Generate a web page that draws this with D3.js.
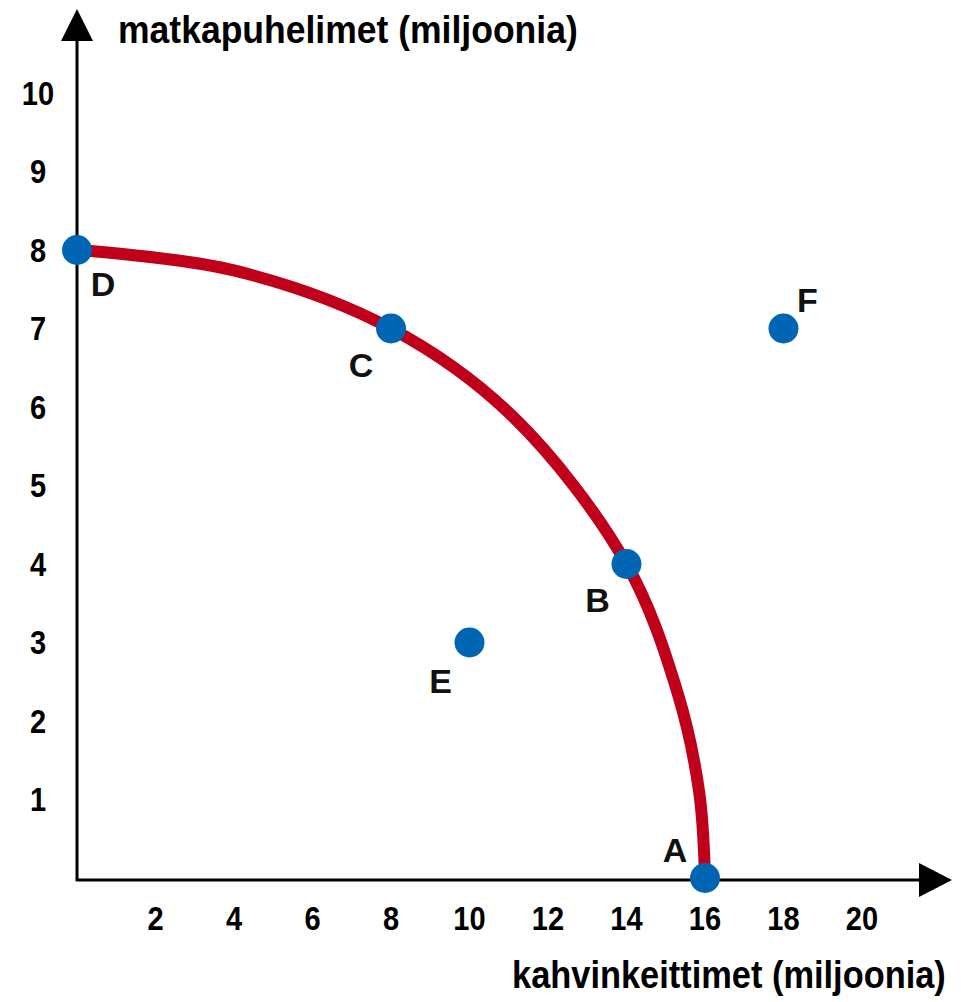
<!DOCTYPE html>
<html><head><meta charset="utf-8">
<script src="https://cdn.jsdelivr.net/npm/d3@7"></script>
<style>
html,body{margin:0;padding:0;background:#fff;}
text{font-family:"Liberation Sans Narrow","Arial Narrow","Liberation Sans",sans-serif;}
</style></head>
<body>
<svg id="c" width="961" height="1002"></svg>
<script>
// Data
const xTicks = [2,4,6,8,10,12,14,16,18,20];
const yTicks = [1,2,3,4,5,6,7,8,9,10];
const pointNames = ["A","B","C","D","E","F"];
const pointX = [16,14,8,0,10,18];
const pointY = [0,4,7,8,3,7];
const curveX = [0,4,8,11.1,14,15.3,15.85,16];
const curveY = [8,7.74,7,5.88,4,2.36,1.1,0];
const xTitle = "kahvinkeittimet (miljoonia)";
const yTitle = "matkapuhelimet (miljoonia)";

const svg = d3.select("#c");
const x = d3.scaleLinear().domain([0,16]).range([77,705]);
const y = d3.scaleLinear().domain([0,8]).range([878,250]);

// axes lines
svg.append("line").attr("x1",77).attr("x2",77).attr("y1",38).attr("y2",881)
  .attr("stroke","#000").attr("stroke-width",3);
svg.append("line").attr("x1",76).attr("x2",922).attr("y1",880).attr("y2",880)
  .attr("stroke","#000").attr("stroke-width",3);
svg.append("path").attr("d","M77,9 L93,41 L61,41 Z").attr("fill","#000");
svg.append("path").attr("d","M952,880 L919,863 L919,897 Z").attr("fill","#000");

// tick labels
svg.append("g").selectAll("text").data(xTicks).join("text")
  .attr("x",d=>x(d)).attr("y",930).attr("text-anchor","middle")
  .attr("font-size",33).attr("font-weight","bold")
  .attr("transform",d=>`translate(${x(d)},0) scale(0.88,1) translate(${-x(d)},0)`).text(d=>d);
svg.append("g").selectAll("text").data(yTicks).join("text")
  .attr("x",38).attr("y",d=>y(d)+12).attr("text-anchor","middle")
  .attr("font-size",33).attr("font-weight","bold")
  .attr("transform","translate(38,0) scale(0.88,1) translate(-38,0)").text(d=>d);

// titles, squeezed horizontally to the reference widths
function title(txt, x0, y0, w){
  const t = svg.append("text").attr("x",0).attr("y",0).attr("font-size",38)
    .attr("font-weight","bold").text(txt);
  const nat = t.node().getComputedTextLength();
  t.attr("transform",`translate(${x0},${y0}) scale(${w/nat},1)`);
}
title(yTitle,118,43,460);
title(xTitle,512,988,434);

// curve
const line = d3.line().x(d=>x(d[0])).y(d=>y(d[1])).curve(d3.curveCatmullRom.alpha(0.5));
svg.append("path").datum(d3.zip(curveX,curveY)).attr("d",line)
  .attr("fill","none").attr("stroke","#c0001a").attr("stroke-width",12);

// points
const pts = d3.range(pointNames.length).map(i=>({n:pointNames[i],x:pointX[i],y:pointY[i]}));
svg.append("g").selectAll("circle").data(pts).join("circle")
  .attr("cx",d=>x(d.x)).attr("cy",d=>y(d.y)).attr("r",15).attr("fill","#0066b3");

const off = {A:[-30,-16],B:[-29,48],C:[-30,48],D:[26,46],E:[-29,50],F:[24,-17]};
svg.append("g").selectAll("text").data(pts).join("text")
  .attr("x",d=>x(d.x)+off[d.n][0]).attr("y",d=>y(d.y)+off[d.n][1])
  .attr("text-anchor","middle").attr("font-size",34).attr("font-weight","bold")
  .attr("fill","#111").text(d=>d.n);
</script>
</body></html>
